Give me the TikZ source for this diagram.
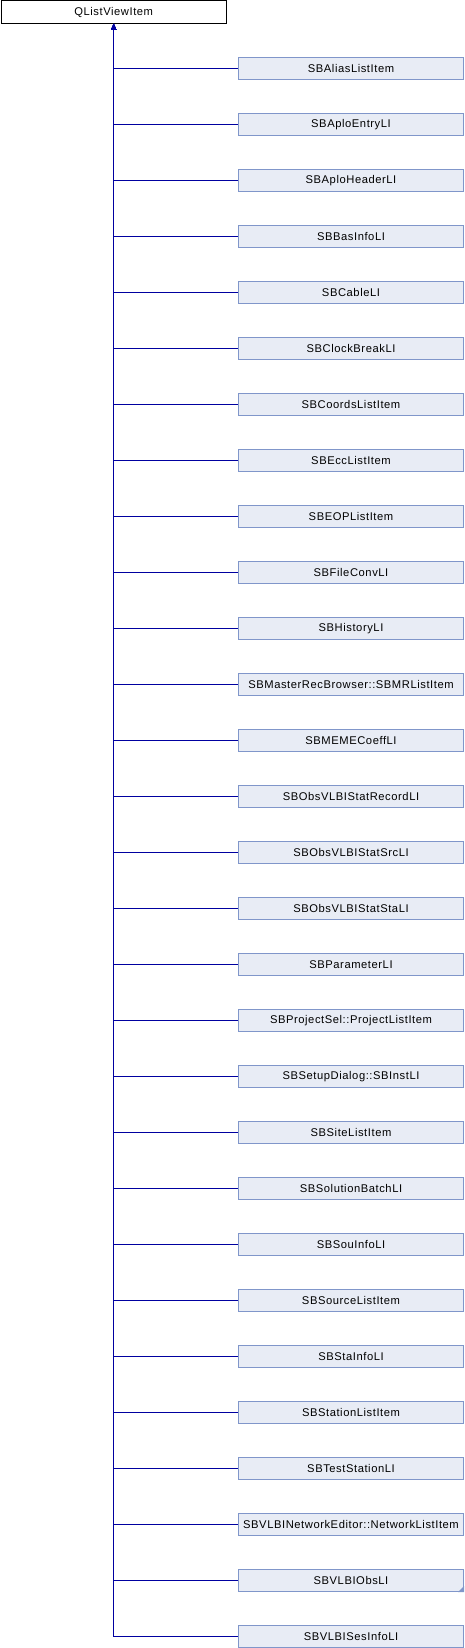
\documentclass[tikz,border=0pt]{standalone}
\usepackage{fontspec}
\setmainfont{Liberation Sans}
\newfontfamily\boxfont[LetterSpace=5]{Liberation Sans}
\usetikzlibrary{arrows.meta}
\definecolor{boxfill}{RGB}{232,236,245}
\definecolor{boxline}{RGB}{128,150,202}
\definecolor{edgecol}{RGB}{0,0,160}
\begin{document}
\begin{tikzpicture}[x=1pt,y=-1pt,
  base/.style={draw, line width=0.9pt, minimum width=225.5pt, minimum height=22.5pt, inner sep=0pt, font=\boxfont\fontsize{11.2}{13}\selectfont},
  topbox/.style={base, fill=white, draw=black},
  childbox/.style={base, fill=boxfill, draw=boxline},
  edge/.style={draw=edgecol, line width=0.9pt, -{Triangle[width=5pt,length=6pt]}}]
\useasboundingbox (0,0) rectangle (464,1648);
\node[topbox, anchor=north west] (top) at (0.5,0.5) {QListViewItem};
\foreach \name [count=\i from 0] in {SBAliasListItem, SBAploEntryLI, SBAploHeaderLI, SBBasInfoLI, SBCableLI, SBClockBreakLI, SBCoordsListItem, SBEccListItem, SBEOPListItem, SBFileConvLI, SBHistoryLI, SBMasterRecBrowser::SBMRListItem, SBMEMECoeffLI, SBObsVLBIStatRecordLI, SBObsVLBIStatSrcLI, SBObsVLBIStatStaLI, SBParameterLI, SBProjectSel::ProjectListItem, SBSetupDialog::SBInstLI, SBSiteListItem, SBSolutionBatchLI, SBSouInfoLI, SBSourceListItem, SBStaInfoLI, SBStationListItem, SBTestStationLI, SBVLBINetworkEditor::NetworkListItem, SBVLBIObsLI, SBVLBISesInfoLI}
{
  \node[childbox, anchor=west] (c\i) at (237.8, 68.3+56*\i) {\name};
  \draw[edge] (c\i.west) -| (top.south);
}
\fill[boxline] (c27.south east) -- ++(0,-6) -- ++(-6,6) -- cycle;
\end{tikzpicture}
\end{document}
